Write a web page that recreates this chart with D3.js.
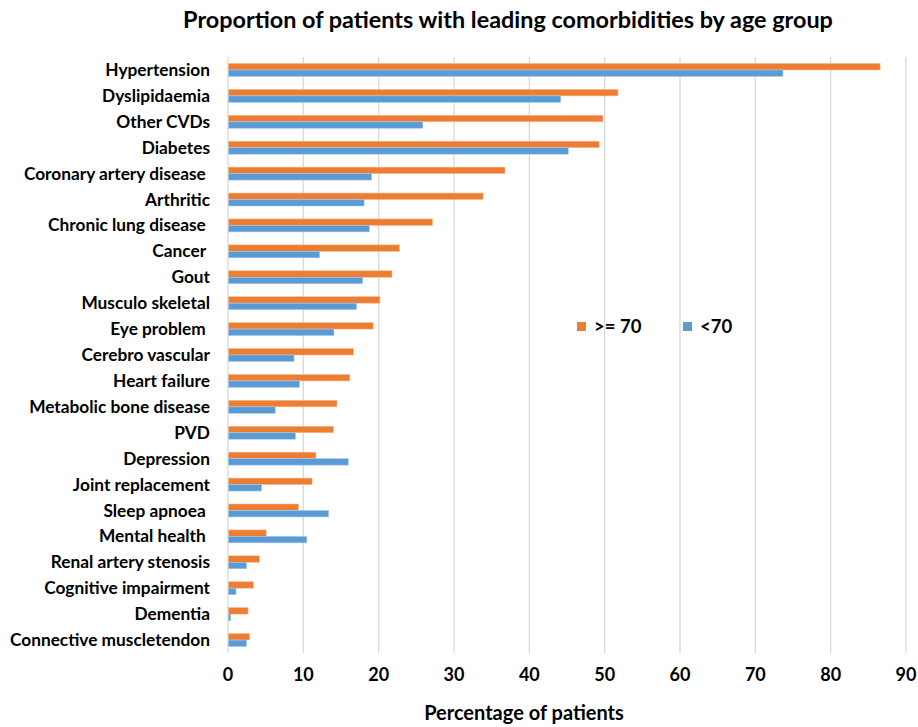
<!DOCTYPE html>
<html><head><meta charset="utf-8">
<script src="https://cdn.jsdelivr.net/npm/d3@7"></script>
<style>body{margin:0;background:#fff;} text{font-family:Lato,"Open Sans",sans-serif;font-weight:bold;fill:#000;}</style>
</head><body>
<svg id="c" width="918" height="727"></svg>
<script>
const categories = ["Hypertension","Dyslipidaemia","Other CVDs","Diabetes","Coronary artery disease ","Arthritic","Chronic lung disease ","Cancer ","Gout","Musculo skeletal","Eye problem ","Cerebro vascular","Heart failure","Metabolic bone disease","PVD","Depression","Joint replacement","Sleep apnoea ","Mental health ","Renal artery stenosis","Cognitive impairment","Dementia","Connective muscletendon"];
const over70 = [86.5,51.7,49.7,49.2,36.7,33.8,27.1,22.7,21.7,20.1,19.2,16.6,16.1,14.4,13.9,11.6,11.1,9.3,5.0,4.1,3.3,2.6,2.8];
const under70 = [73.6,44.1,25.8,45.1,19.0,18.0,18.7,12.1,17.8,17.0,14.0,8.7,9.4,6.2,8.9,15.9,4.4,13.3,10.4,2.4,1.0,0.3,2.4];
const seriesNames = [">= 70","<70"];
const colors = ["#ED7D31","#5B9BD5"];
const xTicks = [0,10,20,30,40,50,60,70,80,90];

const svg = d3.select("#c");
const L = 228, R = 906, T = 57, B = 653;
const x = d3.scaleLinear().domain([0,90]).range([L,R]);
const y = d3.scaleBand().domain(categories).range([T,B]).paddingInner(0.5).paddingOuter(0.25);

svg.append("text").attr("x",508).attr("y",28).attr("text-anchor","middle")
  .style("font-size","23.4px").text("Proportion of patients with leading comorbidities by age group");

// gridlines
svg.append("g").selectAll("line").data(xTicks).join("line")
  .attr("x1",d=>x(d)).attr("x2",d=>x(d)).attr("y1",T).attr("y2",B)
  .attr("stroke","#d9d9d9").attr("stroke-width",1.3);

// bars
const bh = y.bandwidth()/2;
const g = svg.append("g");
[over70, under70].forEach((vals,si)=>{
  g.selectAll(null).data(vals).join("rect")
    .attr("x",x(0)+0.5)
    .attr("y",(d,i)=>y(categories[i]) + si*bh)
    .attr("width",d=>x(d)-x(0))
    .attr("height",bh)
    .attr("fill",colors[si])
    .attr("stroke", si===0 ? "#f6b991" : "#a9c9ea").attr("stroke-width",0.6);
});

// category labels
svg.append("g").selectAll("text").data(categories).join("text")
  .attr("x",210).attr("y",d=>y(d)+y.bandwidth()/2).attr("dy","0.35em")
  .attr("text-anchor","end").style("font-size","17.3px").style("white-space","pre")
  .text(d=>d);

// x tick labels
svg.append("g").selectAll("text").data(xTicks).join("text")
  .attr("x",d=>x(d)).attr("y",675).attr("dy","0.35em").attr("text-anchor","middle")
  .style("font-size","18px").text(d=>d);

svg.append("text").attr("x",524).attr("y",713).attr("dy","0.35em").attr("text-anchor","middle")
  .style("font-size","20px").text("Percentage of patients");

// legend
const leg = [{x:577},{x:683}];
leg.forEach((l,i)=>{
  svg.append("rect").attr("x",l.x).attr("y",322).attr("width",9).attr("height",9).attr("fill",colors[i]);
  svg.append("text").attr("x",l.x+17).attr("y",327).attr("dy","0.35em").style("font-size","18.5px").text(seriesNames[i]);
});
</script>
</body></html>
